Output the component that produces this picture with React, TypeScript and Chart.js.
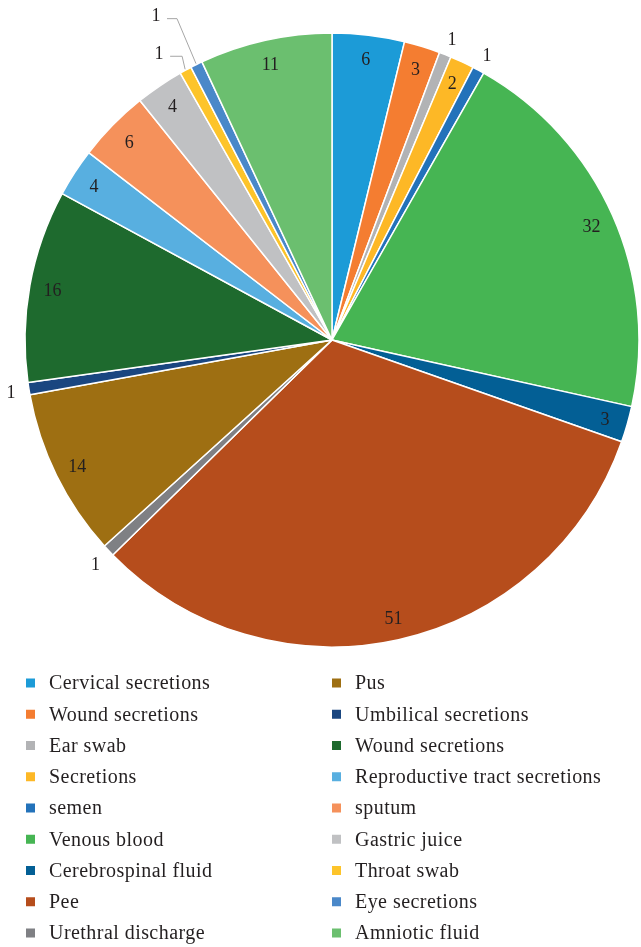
import React, { useEffect, useRef } from "react";
import { Chart, registerables } from "chart.js";

Chart.register(...registerables);

const categories: string[] = [
  "Cervical secretions",
  "Wound secretions",
  "Ear swab",
  "Secretions",
  "semen",
  "Venous blood",
  "Cerebrospinal fluid",
  "Pee",
  "Urethral discharge",
  "Pus",
  "Umbilical secretions",
  "Wound secretions",
  "Reproductive tract secretions",
  "sputum",
  "Gastric juice",
  "Throat swab",
  "Eye secretions",
  "Amniotic fluid",
];

const counts: number[] = [6, 3, 1, 2, 1, 32, 3, 51, 1, 14, 1, 16, 4, 6, 4, 1, 1, 11];

const colors: string[] = [
  "#1c9bd7",
  "#f47d31",
  "#b2b3b5",
  "#fdb826",
  "#2372ba",
  "#46b553",
  "#035f95",
  "#b64d1c",
  "#7f8084",
  "#9e6f12",
  "#1a4680",
  "#1e6a2e",
  "#58afe0",
  "#f5915b",
  "#c0c1c3",
  "#fdc42a",
  "#4a88c9",
  "#6bbf6f",
];

// leader-line offsets (elbow relative to slice edge) for crowded small slices
const leaderIdx: number[] = [15, 16];
const leaderDx: number[] = [-3, -19];
const leaderDy: number[] = [-13, -45];
const leaderLen: number[] = [12, 10];

const FONT = '"Liberation Serif", "Times New Roman", serif';
const TEXT = "#231f20";

const labelPlugin = {
  id: "sliceLabels",
  afterDatasetsDraw(chart: any) {
    const ctx = chart.ctx;
    const meta = chart.getDatasetMeta(0);
    ctx.save();
    ctx.font = `18px ${FONT}`;
    ctx.fillStyle = TEXT;
    ctx.textAlign = "center";
    ctx.textBaseline = "middle";
    meta.data.forEach((arc: any, i: number) => {
      const p = arc.getProps(["startAngle", "endAngle", "x", "y", "outerRadius"], true);
      const mid = (p.startAngle + p.endAngle) / 2;
      const v = counts[i];
      const li = leaderIdx.indexOf(i);
      if (li >= 0) {
        const ex = p.x + Math.cos(mid) * (p.outerRadius + 1);
        const ey = p.y + Math.sin(mid) * (p.outerRadius + 1);
        const bx = ex + leaderDx[li];
        const by = ey + leaderDy[li];
        ctx.strokeStyle = "#a6a6a6";
        ctx.lineWidth = 1;
        ctx.beginPath();
        ctx.moveTo(ex, ey);
        ctx.lineTo(bx, by);
        ctx.lineTo(bx - leaderLen[li], by);
        ctx.stroke();
        ctx.fillText(String(v), bx - leaderLen[li] - 11, by - 2);
        return;
      }
      const r = v <= 1 ? p.outerRadius + 18 : p.outerRadius * 0.925;
      ctx.fillText(String(v), p.x + Math.cos(mid) * r, p.y + Math.sin(mid) * r + 2);
    });
    ctx.restore();
  },
};

const legendPlugin = {
  id: "colLegend",
  afterDraw(chart: any) {
    const ctx = chart.ctx;
    const half = Math.ceil(categories.length / 2);
    ctx.save();
    ctx.font = `20px ${FONT}`;
    (ctx as any).letterSpacing = "0.45px";
    ctx.textAlign = "left";
    ctx.textBaseline = "middle";
    categories.forEach((name, i) => {
      const col = i < half ? 0 : 1;
      const row = i < half ? i : i - half;
      const mx = col === 0 ? 26 : 332;
      const tx = col === 0 ? 49 : 355;
      const y = 683 + row * 31.25;
      ctx.fillStyle = colors[i];
      ctx.fillRect(mx, y - 4.5, 9, 9);
      ctx.fillStyle = TEXT;
      ctx.fillText(name, tx, y + 1);
    });
    ctx.restore();
  },
};

export default function App() {
  const ref = useRef<HTMLCanvasElement | null>(null);
  useEffect(() => {
    document.body.style.margin = "0";
    const chart = new Chart(ref.current as HTMLCanvasElement, {
      type: "pie",
      data: {
        labels: categories,
        datasets: [
          {
            data: counts,
            backgroundColor: colors,
            borderColor: "#ffffff",
            borderWidth: 1.5,
          },
        ],
      },
      options: {
        responsive: false,
        animation: false,
        radius: 307,
        layout: { padding: { left: 25, right: 2, top: 33, bottom: 300 } },
        plugins: {
          legend: { display: false },
          tooltip: { enabled: false },
        },
      } as any,
      plugins: [labelPlugin, legendPlugin],
    });
    return () => chart.destroy();
  }, []);
  return (
    <div style={{ width: 641, height: 947, background: "#fff" }}>
      <canvas ref={ref} width={641} height={947} style={{ width: 641, height: 947, display: "block" }} />
    </div>
  );
}
